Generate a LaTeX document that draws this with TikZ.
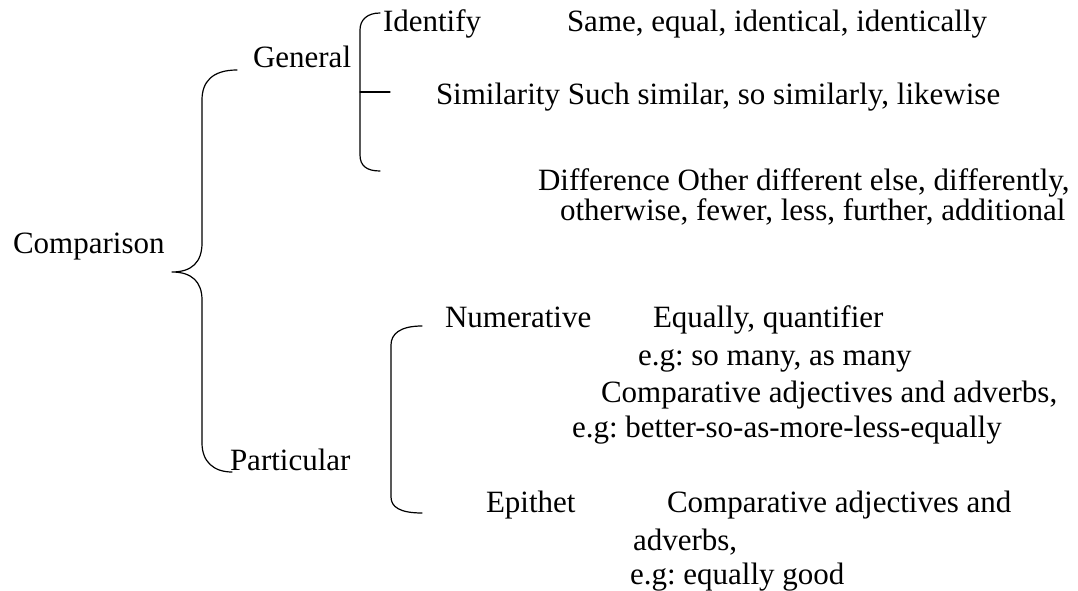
\documentclass[tikz,border=0pt]{standalone}
\usepackage{fontspec}
\setmainfont{Liberation Serif}
\frenchspacing
\begin{document}
\begin{tikzpicture}[x=1pt,y=-1pt,
  lbl/.style={anchor=base west,inner sep=0pt,outer sep=0pt,font=\fontsize{31}{37}\selectfont},
  brace/.style={line width=1.2pt,line cap=round,line join=round}]
\useasboundingbox (0,0) rectangle (1078,591);
% texts
\node[lbl] (cmp) at (13,253) {Comparison};
\node[lbl] (gen) at (253,68) {General};
\node[lbl] (par) at (230,470) {Particular};
\node[lbl] (idf) at (383,32) {Identify};
\node[lbl] (idfv) at (567,32) {Same, equal, identical, identically};
\node[lbl] (sim) at (436,105) {Similarity Such similar, so similarly, likewise};
\node[lbl] (dif1) at (538,190) {Difference Other different else, differently,};
\node[lbl] (dif2) at (560,220) {otherwise, fewer, less, further, additional};
\node[lbl] (num) at (445,327) {Numerative};
\node[lbl] (numv) at (653,327) {Equally, quantifier};
\node[lbl] (num2) at (638,365) {e.g: so many, as many};
\node[lbl] (num3) at (601,402) {Comparative adjectives and adverbs,};
\node[lbl] (num4) at (572,437) {e.g: better-so-as-more-less-equally};
\node[lbl] (epi) at (486,512) {Epithet};
\node[lbl] (epiv) at (667,512) {Comparative adjectives and};
\node[lbl] (epi2) at (633,550) {adverbs,};
\node[lbl] (epi3) at (630,584) {e.g: equally good};
% big brace
\draw[brace] (237,70) .. controls (212,70) and (202,82) .. (202,100)
  -- (202,243) .. controls (202,262) and (192,272) .. (172,272)
  .. controls (192,272) and (202,282) .. (202,300)
  -- (202,443) .. controls (202,462) and (214,472) .. (232,472);
% general brace
\draw[brace] (380,13) .. controls (367,13) and (360,20) .. (360,30)
  -- (360,155) .. controls (360,166) and (367,171) .. (380,171);
\draw[brace] (360,92) -- (390,92);
% particular brace
\draw[brace] (422,326) .. controls (400,326) and (391,334) .. (391,345)
  -- (391,497) .. controls (391,507) and (400,513) .. (422,513);
\end{tikzpicture}
\end{document}
